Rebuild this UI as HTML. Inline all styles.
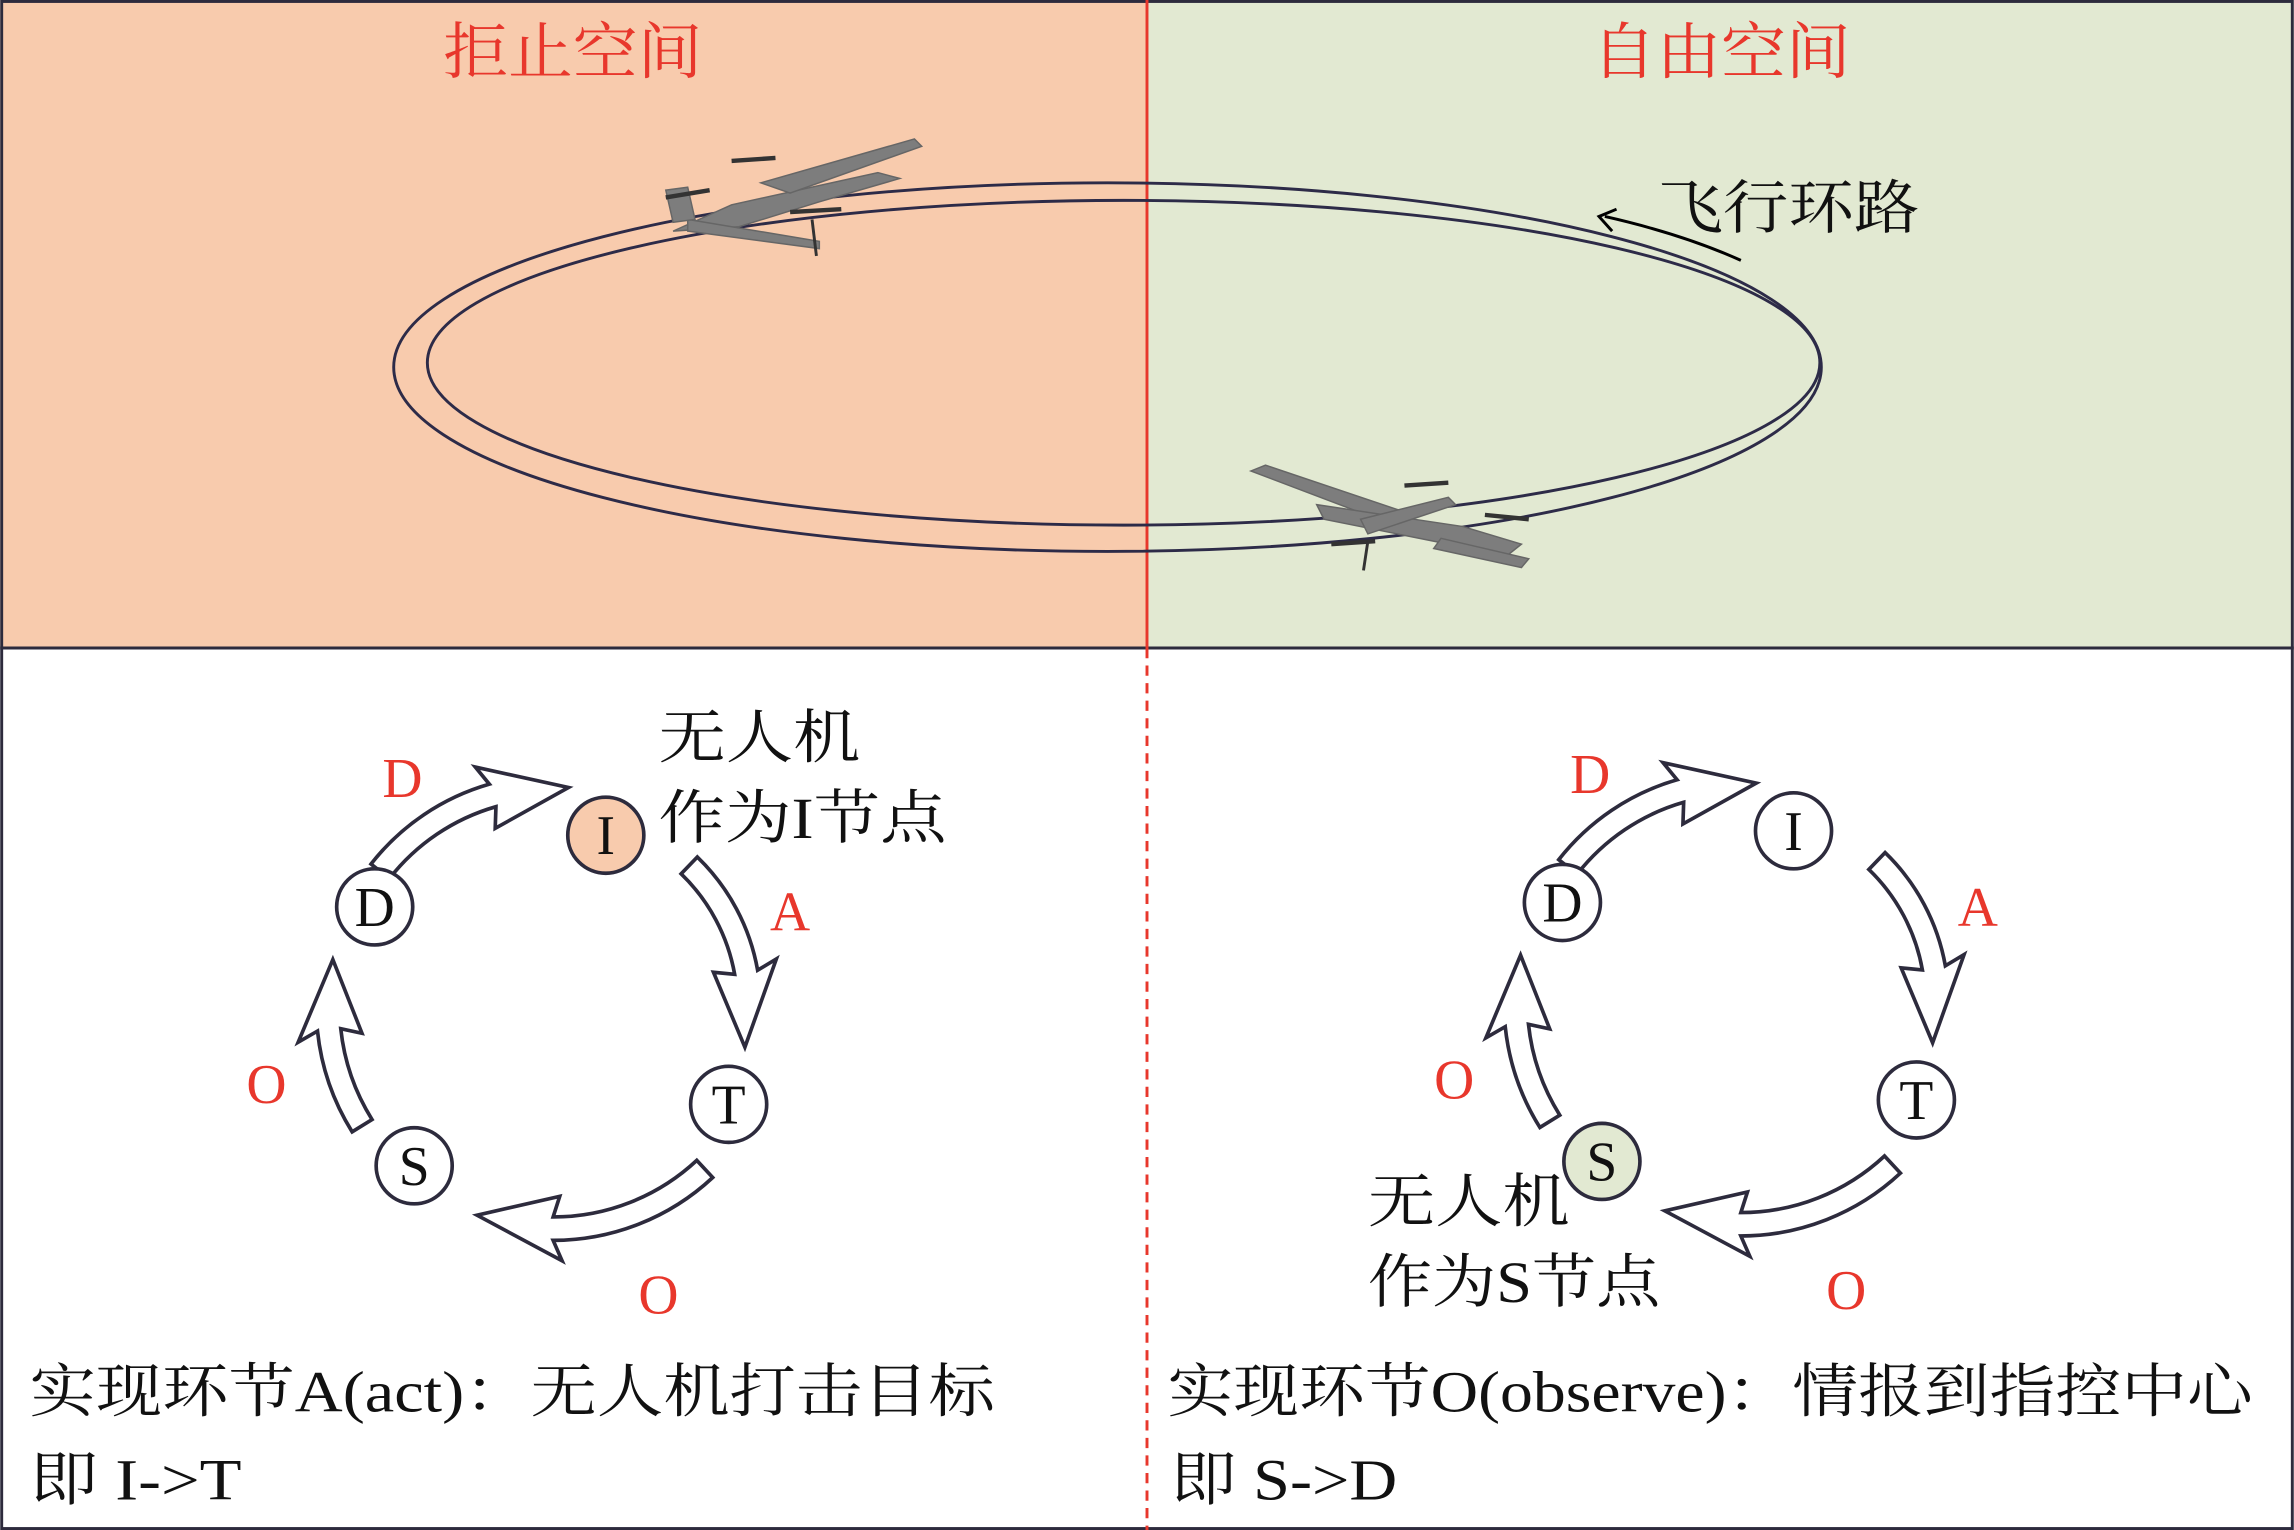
<!DOCTYPE html>
<html><head><meta charset="utf-8"><style>
html,body{margin:0;padding:0;background:#fff}
svg{display:block}
text{font-family:"Liberation Serif","Noto Serif CJK SC",serif}
</style></head><body>
<svg id="s" width="2294" height="1530" viewBox="0 0 1568 1046" xmlns="http://www.w3.org/2000/svg">
<rect x="0" y="0" width="784" height="443" fill="#f8cbad"/>
<rect x="784" y="0" width="784" height="443" fill="#e2e9d2"/>
<rect x="1" y="1" width="1566" height="1044" fill="none" stroke="#2d2b3d" stroke-width="2"/>
<line x1="0" y1="443" x2="1568" y2="443" stroke="#2d2b3d" stroke-width="2"/>
<line x1="784" y1="0" x2="784" y2="443" stroke="#e8372c" stroke-width="2"/>
<line x1="784" y1="443" x2="784" y2="1046" stroke="#e8372c" stroke-width="2" stroke-dasharray="7,5"/>
<text x="303" y="50" font-size="42" fill="#e8372c" textLength="177" lengthAdjust="spacingAndGlyphs">拒止空间</text>
<text x="1088" y="50" font-size="42" fill="#e8372c" textLength="177" lengthAdjust="spacingAndGlyphs">自由空间</text>
<ellipse cx="757" cy="251" rx="488" ry="126" fill="none" stroke="#2d2b48" stroke-width="2"/>
<ellipse cx="768" cy="248" rx="476" ry="111" fill="none" stroke="#2d2b48" stroke-width="2"/>
<path d="M1190 178 Q1150 160 1097 148" fill="none" stroke="#000" stroke-width="2"/>
<path d="M1105 143 L1093 148 L1102 158" fill="none" stroke="#000" stroke-width="2"/>
<text x="1133" y="156" font-size="40" fill="#111" textLength="179" lengthAdjust="spacingAndGlyphs">飞行环路</text>
<!-- drone 1 -->
<g fill="#7d7d7d" stroke="#666" stroke-width="1">
<polygon points="460,158 500,140 600,118 615,122 560,138 505,155"/>
<polygon points="520,125 625,95 630,100 540,132"/>
<polygon points="470,150 560,165 560,170 470,158"/>
<polygon points="455,130 470,128 475,150 460,152"/>
<line x1="500" y1="110" x2="530" y2="108" stroke="#333" stroke-width="3"/>
<line x1="455" y1="135" x2="485" y2="130" stroke="#333" stroke-width="3"/>
<line x1="540" y1="145" x2="575" y2="143" stroke="#333" stroke-width="3"/>
<line x1="555" y1="150" x2="558" y2="175" stroke="#333" stroke-width="2"/>
</g>
<!-- drone 2 -->
<g fill="#7d7d7d" stroke="#666" stroke-width="1">
<polygon points="855,322 865,318 960,350 950,358"/>
<polygon points="900,345 1000,360 1040,372 1030,380 990,372 905,355"/>
<polygon points="930,355 990,340 995,345 935,365"/>
<polygon points="985,368 1045,382 1040,388 980,375"/>
<line x1="960" y1="332" x2="990" y2="330" stroke="#333" stroke-width="3"/>
<line x1="1015" y1="352" x2="1045" y2="355" stroke="#333" stroke-width="3"/>
<line x1="910" y1="372" x2="940" y2="370" stroke="#333" stroke-width="3"/>
<line x1="935" y1="370" x2="932" y2="390" stroke="#333" stroke-width="2"/>
</g>
<g id="cyc"></g>
<text x="450" y="518" font-size="40" fill="#111" textLength="138" lengthAdjust="spacingAndGlyphs">无人机</text>
<text x="450" y="573" font-size="40" fill="#111" textLength="197" lengthAdjust="spacingAndGlyphs">作为I节点</text>
<text x="935" y="835" font-size="40" fill="#111" textLength="138" lengthAdjust="spacingAndGlyphs">无人机</text>
<text x="935" y="890" font-size="40" fill="#111" textLength="200" lengthAdjust="spacingAndGlyphs">作为S节点</text>
<text x="20" y="965" font-size="40" fill="#111" textLength="660" lengthAdjust="spacingAndGlyphs">实现环节A(act)：无人机打击目标</text>
<text x="20" y="1025" font-size="40" fill="#111" textLength="145" lengthAdjust="spacingAndGlyphs">即 I-&gt;T</text>
<text x="798" y="965" font-size="40" fill="#111" textLength="742" lengthAdjust="spacingAndGlyphs">实现环节O(observe)：情报到指控中心</text>
<text x="800" y="1025" font-size="40" fill="#111" textLength="155" lengthAdjust="spacingAndGlyphs">即 S-&gt;D</text>
</svg>
<script>
(function(){
var g=document.getElementById('cyc'),out='';
function P(cx,cy,r,a){a=a*Math.PI/180;return (cx+r*Math.cos(a)).toFixed(1)+','+(cy+r*Math.sin(a)).toFixed(1);}
function arrow(cx,cy,r,a0,a1,a2){var w=8,h=22;
var d='M'+P(cx,cy,r-w,a0)+' A'+(r-w)+','+(r-w)+' 0 0 1 '+P(cx,cy,r-w,a1)+' L'+P(cx,cy,r-h,a1-2)+' L'+P(cx,cy,r,a2)+' L'+P(cx,cy,r+h,a1-2)+' L'+P(cx,cy,r+w,a1)+' A'+(r+w)+','+(r+w)+' 0 0 0 '+P(cx,cy,r+w,a0)+' Z';
return '<path d="'+d+'" fill="#fff" stroke="#2d2b3d" stroke-width="2.5"/>';}
function cyc(dx,dy,special){
var cx=378+dx,cy=688+dy;
out+=arrow(cx,cy,150,218,254,274);
out+=arrow(cx,cy,134,314,350,372);
out+=arrow(cx,cy,152,47,90,110);
out+=arrow(cx,cy,154,148,174,192);
var n=[['I',414,571],['D',256,620],['T',498,755],['S',283,797]];
n.forEach(function(k){var f='#fff';if(k[0]==special)f=special=='I'?'#f8cbad':'#e2e9d2';
out+='<circle cx="'+(k[1]+dx)+'" cy="'+(k[2]+dy)+'" r="26" fill="'+f+'" stroke="#2d2b3d" stroke-width="2.5"/>';
out+='<text x="'+(k[1]+dx)+'" y="'+(k[2]+dy+13)+'" font-size="38" text-anchor="middle" fill="#111">'+k[0]+'</text>';});
var l=[['D',275,545],['A',540,636],['O',182,754],['O',450,898]];
l.forEach(function(k){out+='<text x="'+(k[1]+dx)+'" y="'+(k[2]+dy)+'" font-size="38" text-anchor="middle" fill="#e8372c">'+k[0]+'</text>';});
}
cyc(0,0,'I');cyc(812,-3,'S');
g.innerHTML=out;
})();
</script>
</body></html>
